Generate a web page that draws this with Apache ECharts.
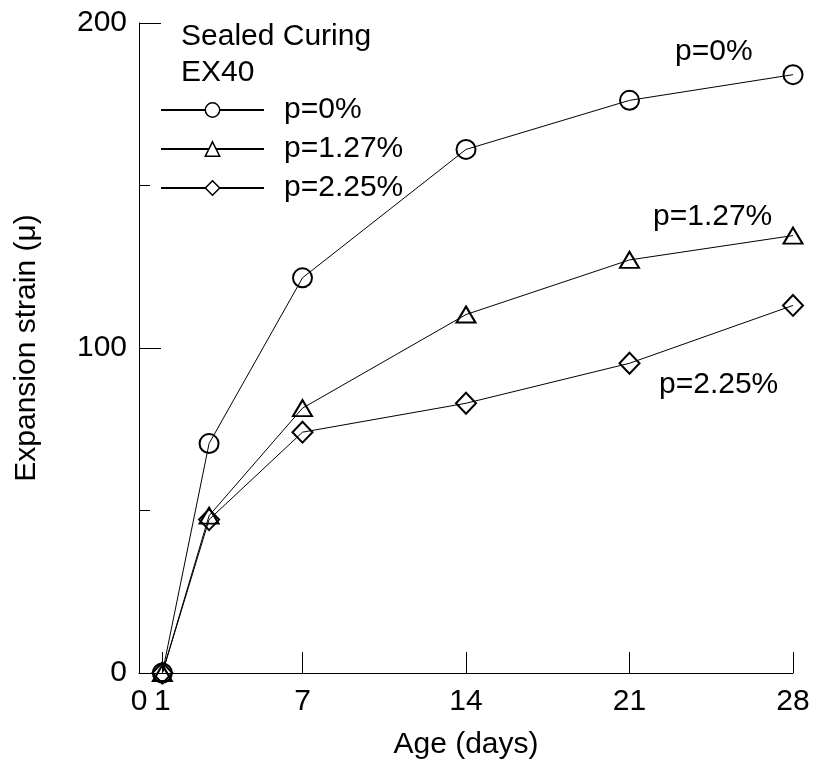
<!DOCTYPE html>
<html>
<head>
<meta charset="utf-8">
<script src="https://cdn.jsdelivr.net/npm/echarts@6/dist/echarts.min.js"></script>
<style>
  html, body { margin: 0; padding: 0; background: #fff; }
  #chart { width: 814px; height: 765px; }
</style>
</head>
<body>
<div id="chart"></div>
<script>
// Age in days at which expansion strain was measured
const ages = [1, 3, 7, 14, 21, 28];
// Expansion strain (μ) for each reinforcement ratio
const strainP0 = [0, 70.6, 121.6, 161.1, 176.2, 184.1];
const strainP127 = [0, 48.4, 81.5, 110.3, 127.1, 134.6];
const strainP225 = [0, 47.2, 74.1, 83.0, 95.3, 113.1];
const seriesNames = ['p=0%', 'p=1.27%', 'p=2.25%'];
// Tick labels on the age axis
const ageTicks = [0, 1, 7, 14, 21, 28];
const ageTickMarks = [1, 7, 14, 21, 28];

const FONT = "'Liberation Sans', Arial, sans-serif";
const FS = 30;

function pairs(vals) {
  return ages.map((a, i) => [a, vals[i]]);
}

function makeSeries(name, vals, symbol, size) {
  return {
    name: name,
    type: 'line',
    data: pairs(vals),
    symbol: symbol,
    symbolSize: size,
    showAllSymbol: true,
    lineStyle: { color: '#000', width: 1 },
    itemStyle: { color: 'transparent', borderColor: '#000', borderWidth: 2 },
    emphasis: { disabled: true },
    animation: false,
    z: 2
  };
}

const chart = echarts.init(document.getElementById('chart'), null, { renderer: 'canvas' });

chart.setOption({
  backgroundColor: '#fff',
  animation: false,
  grid: { left: 139, top: 23, right: 21, bottom: 89, containLabel: false },
  xAxis: {
    type: 'value',
    min: 0,
    max: 28,
    name: 'Age (days)',
    nameLocation: 'middle',
    nameGap: 57,
    nameTextStyle: { fontFamily: FONT, fontSize: FS, color: '#000' },
    axisLine: { show: true, onZero: false, lineStyle: { color: '#000', width: 1 } },
    axisTick: { show: true, inside: true, length: 21, customValues: ageTickMarks, lineStyle: { color: '#000', width: 1 } },
    axisLabel: { show: true, customValues: ageTicks, margin: 14, fontFamily: FONT, fontSize: FS, color: '#000' },
    splitLine: { show: false }
  },
  yAxis: {
    type: 'value',
    min: 0,
    max: 200,
    interval: 100,
    name: 'Expansion strain (\u03bc)',
    nameLocation: 'middle',
    nameGap: 97,
    nameRotate: 90,
    nameTextStyle: { fontFamily: FONT, fontSize: FS, color: '#000' },
    axisLine: { show: true, onZero: false, lineStyle: { color: '#000', width: 1 } },
    axisTick: { show: true, inside: true, length: 22, lineStyle: { color: '#000', width: 1 } },
    minorTick: { show: true, splitNumber: 2, length: 11, lineStyle: { color: '#000', width: 1 } },
    axisLabel: { show: true, margin: 12, fontFamily: FONT, fontSize: FS, color: '#000' },
    splitLine: { show: false }
  },
  legend: {
    data: seriesNames,
    orient: 'vertical',
    left: 155,
    top: 90,
    itemWidth: 103,
    itemHeight: 18,
    itemGap: 9,
    selectedMode: false,
    itemStyle: { color: '#fff', borderColor: '#000', borderWidth: 1.5 },
    textStyle: { fontFamily: FONT, fontSize: FS, color: '#000', padding: [0, 0, 0, 15], lineHeight: 30 }
  },
  graphic: [
    { type: 'text', left: 181, top: 22, style: { text: 'Sealed Curing', font: FS + 'px ' + FONT, fill: '#000' } },
    { type: 'text', left: 181, top: 58, style: { text: 'EX40', font: FS + 'px ' + FONT, fill: '#000' } },
    { type: 'text', left: 675, top: 37, style: { text: seriesNames[0], font: FS + 'px ' + FONT, fill: '#000' } },
    { type: 'text', left: 653, top: 202, style: { text: seriesNames[1], font: FS + 'px ' + FONT, fill: '#000' } },
    { type: 'text', left: 659, top: 370, style: { text: seriesNames[2], font: FS + 'px ' + FONT, fill: '#000' } }
  ],
  series: [
    makeSeries(seriesNames[0], strainP0, 'circle', 19),
    makeSeries(seriesNames[1], strainP127, 'triangle', [19, 16]),
    makeSeries(seriesNames[2], strainP225, 'diamond', [20, 21])
  ]
});
</script>
</body>
</html>
